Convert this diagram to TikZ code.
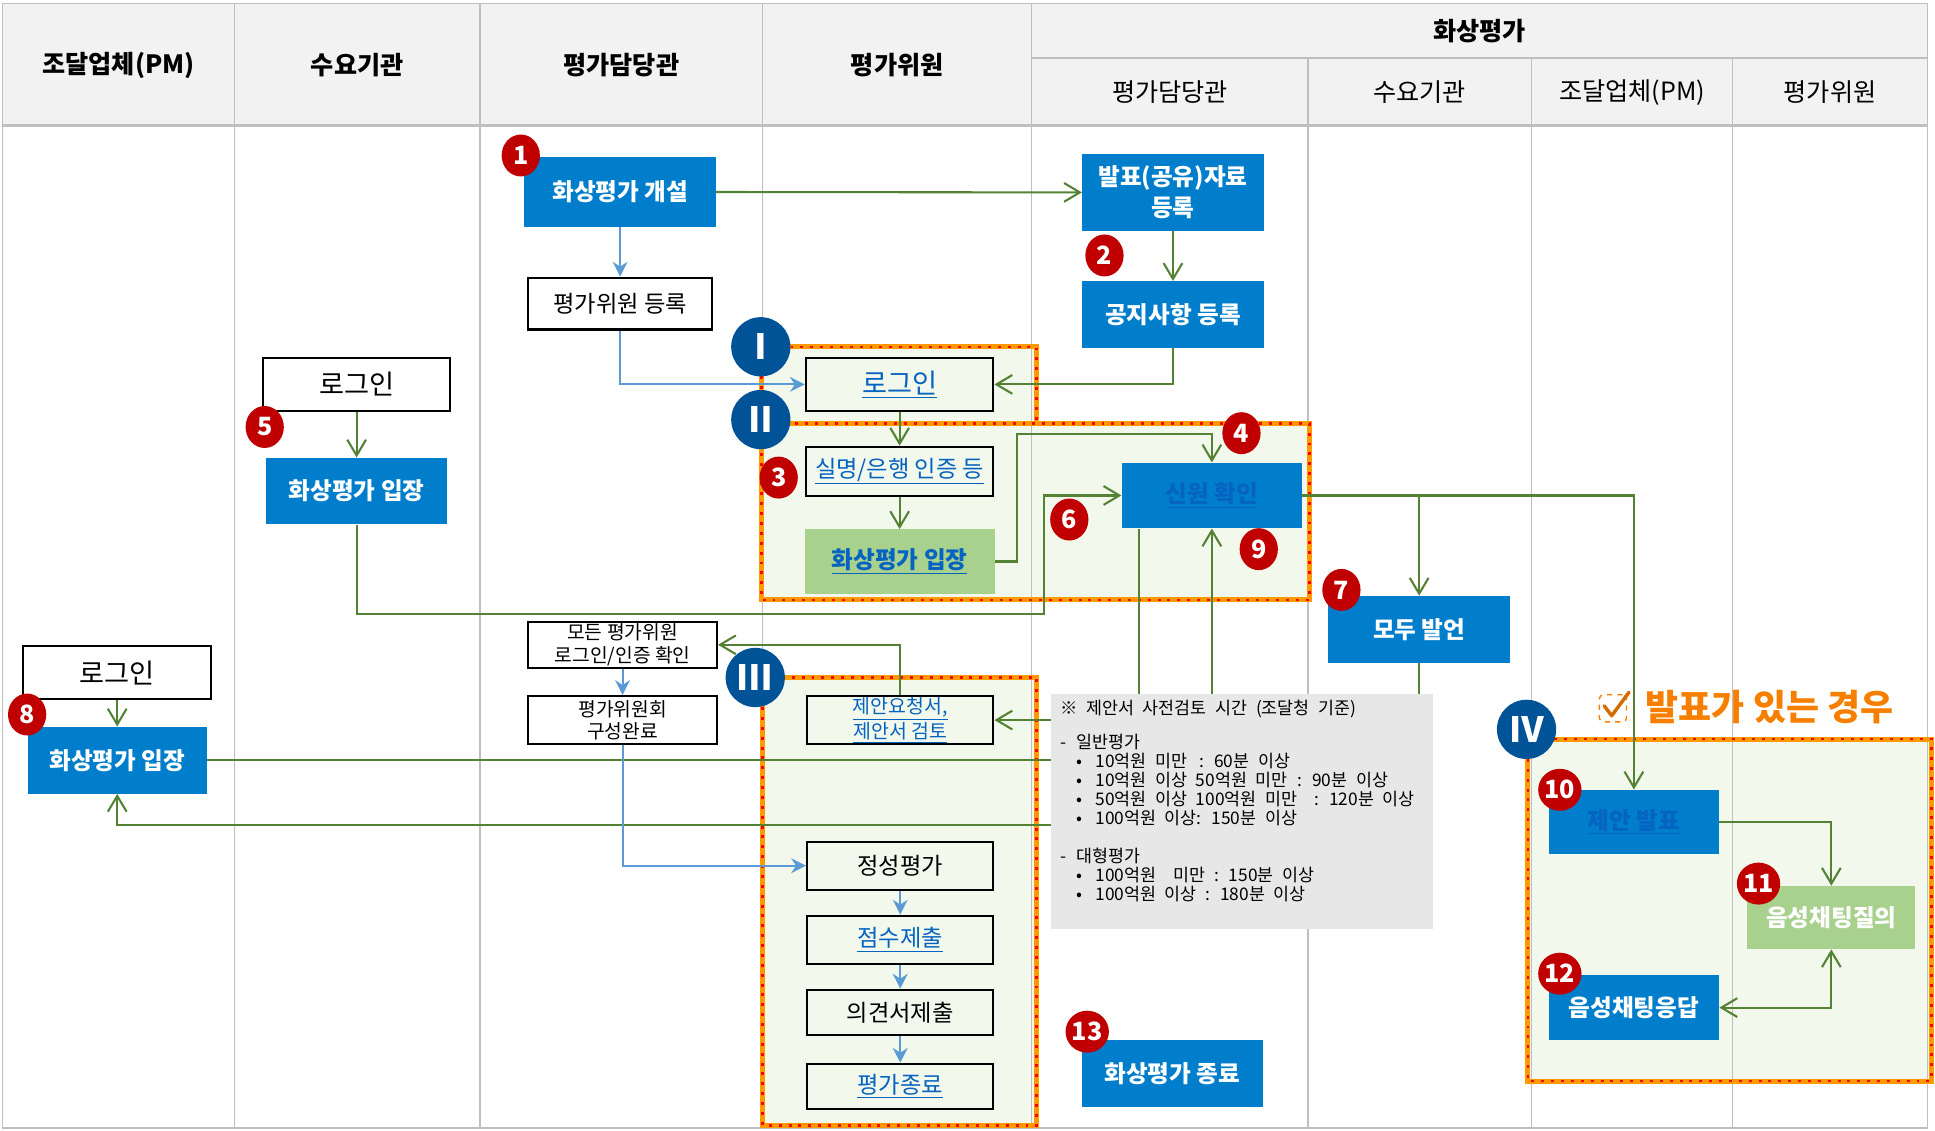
\documentclass[tikz,border=0pt]{standalone}
\usepackage{fontspec}
\setmainfont{Noto Sans CJK KR}
\usetikzlibrary{arrows.meta,shapes.geometric,calc}
\definecolor{boxblue}{RGB}{0,126,204}
\definecolor{badgeblue}{RGB}{0,83,150}
\definecolor{badgered}{RGB}{192,0,0}
\definecolor{linegreen}{RGB}{84,130,53}
\definecolor{lineblue}{RGB}{91,155,213}
\definecolor{boxgreen}{RGB}{169,209,142}
\definecolor{groupfill}{RGB}{242,248,236}
\definecolor{headfill}{RGB}{242,242,242}
\definecolor{gridgray}{RGB}{191,191,191}
\definecolor{linkblue}{RGB}{5,99,193}
\definecolor{notegray}{RGB}{231,231,231}
\definecolor{caseorange}{RGB}{247,127,0}
\definecolor{borderorange}{RGB}{255,153,0}
\newcommand{\lnk}[1]{\textcolor{linkblue}{\underline{#1}}}
\begin{document}
\begin{tikzpicture}[x=0.25mm,y=-0.25mm]
	\tikzstyle{headtext} = [font=\fontsize{14.5}{17}\selectfont\bfseries]
	\tikzstyle{subhead} = [font=\fontsize{14.5}{17}\selectfont]
	\tikzstyle{bluebox} = [fill=boxblue, text=white, font=\fontsize{13.6}{18}\selectfont\bfseries, minimum width=36.75mm, minimum height=13.5mm, inner sep=0, align=center]
	\tikzstyle{greenbox} = [bluebox, fill=boxgreen]
	\tikzstyle{plainbox} = [draw=black, line width=1.2pt, fill=white, minimum width=38mm, minimum height=10.75mm, inner sep=0, align=center, font=\fontsize{13.4}{15}\selectfont]
	\tikzstyle{smallbox} = [plainbox, minimum width=38.25mm, minimum height=9.5mm, font=\fontsize{11.1}{12.8}\selectfont]
	\tikzstyle{stepbox} = [plainbox, fill=groupfill, minimum width=37.75mm, minimum height=9.75mm]
	\tikzstyle{notebox} = [fill=notegray, anchor=north west, inner xsep=2mm, inner ysep=1.2mm, font=\fontsize{10}{10.9}\selectfont]
	\tikzstyle{redbadge} = [ellipse, fill=badgered, text=white, minimum width=7.75mm, minimum height=8.5mm, inner sep=0, font=\fontsize{14.5}{15}\selectfont\bfseries]
	\tikzstyle{bluebadge} = [circle, fill=badgeblue, text=white, minimum size=12mm, inner sep=0, font=\fontsize{20}{20}\selectfont\bfseries]
	\tikzstyle{garrow} = [linegreen, line width=1.2pt, -{Straight Barb[length=3.2mm,width=3.8mm]}]
	\tikzstyle{barrow} = [lineblue, line width=1.2pt, -{Stealth[length=3mm,width=3mm]}]
	\tikzstyle{lanegrid} = [gridgray, line width=0.9pt]
	\tikzstyle{orangeline} = [borderorange, line width=1mm]
	\tikzstyle{redline} = [red, line width=0.5mm, dash pattern=on 0.6mm off 1.4mm]
\useasboundingbox (0,0) rectangle (1568,916);
% header and lane backgrounds
\fill [headfill] (2,3) rectangle (1562,102);
\fill [groupfill] (617,281) rectangle (840,343);
\fill [groupfill] (617,343) rectangle (1061,486);
\fill [groupfill] (618,549) rectangle (840,912);
\fill [groupfill] (1238,599) rectangle (1565,876);
\draw [lanegrid] (2,3) rectangle (1562,914);
\draw [lanegrid] (190,3) -- (190,914);
\draw [lanegrid] (389,3) -- (389,914);
\draw [lanegrid] (618,3) -- (618,914);
\draw [lanegrid] (836,3) -- (836,914);
\draw [lanegrid] (1060,47) -- (1060,914);
\draw [lanegrid] (1241,47) -- (1241,914);
\draw [lanegrid] (1404,47) -- (1404,914);
\draw [lanegrid] (836,47) -- (1562,47);
\draw [lanegrid, line width=1.6pt] (2,102) -- (1562,102);
\draw [orangeline] (617,281) rectangle (840,343);
\draw [redline] (617,281) rectangle (840,343);
\draw [orangeline] (617,343) rectangle (1061,486);
\draw [redline] (617,343) rectangle (1061,486);
\draw [orangeline] (618,549) rectangle (840,912);
\draw [redline] (618,549) rectangle (840,912);
\draw [orangeline] (1238,599) rectangle (1565,876);
\draw [redline] (1238,599) rectangle (1565,876);

\node [headtext] (h1) at (96,53) {조달업체(PM)};
\node [headtext] (h2) at (289.5,53) {수요기관};
\node [headtext] (h3) at (503.5,53) {평가담당관};
\node [headtext] (h4) at (727,53) {평가위원};
\node [headtext] (hv) at (1199,25) {화상평가};
\node [subhead] (s1) at (948,75) {평가담당관};
\node [subhead] (s2) at (1150.5,75) {수요기관};
\node [subhead] (s3) at (1322.5,75) {조달업체(PM)};
\node [subhead] (s4) at (1483,75) {평가위원};

\node [plainbox, font=\fontsize{15.7}{18}\selectfont] (login1) at (95,545) {로그인};
\node [bluebox, minimum width=36.25mm] (enter1) at (95,616) {화상평가 입장};
\node [plainbox, font=\fontsize{15.7}{18}\selectfont] (login2) at (289,311.5) {로그인};
\node [bluebox] (enter2) at (289,398) {화상평가 입장};
\node [bluebox, minimum width=38.75mm, minimum height=14.25mm] (open) at (502.5,155.5) {화상평가 개설};
\node [plainbox, minimum width=37.25mm, minimum height=10.5mm] (reg) at (502.5,246) {평가위원 등록};
\node [smallbox, minimum height=9.25mm] (allchk) at (504.5,522.5) {모든 평가위원\\로그인/인증 확인};
\node [smallbox, minimum height=9.75mm] (committee) at (504.5,583.5) {평가위원회\\구성완료};
\node [plainbox, fill=groupfill, font=\fontsize{15.7}{18}\selectfont] (loginv) at (729,311.5) {\lnk{로그인}};
\node [plainbox, fill=groupfill, minimum height=10mm] (auth) at (729,382) {\lnk{실명/은행 인증 등}};
\node [greenbox, minimum width=38.5mm, minimum height=13mm] (enterv) at (729,455) {\lnk{화상평가 입장}};
\node [stepbox, font=\fontsize{11.2}{12.2}\selectfont] (review) at (729.5,583.5) {\lnk{제안요청서,}\\\lnk{제안서 검토}};
\node [stepbox] (qual) at (729.5,701.5) {정성평가};
\node [stepbox] (score) at (729.5,761.5) {\lnk{점수제출}};
\node [stepbox, minimum height=9.25mm] (opinion) at (729.5,820.5) {의견서제출};
\node [stepbox, minimum height=9.25mm] (finish) at (729.5,880.5) {\lnk{평가종료}};
\node [bluebox, minimum height=15.5mm] (upload) at (950.5,156) {발표(공유)자료\\등록};
\node [bluebox] (notice) at (950.5,255) {공지사항 등록};
\node [bluebox, minimum width=36.5mm, minimum height=13.25mm] (idchk) at (982,401.5) {\lnk{신원 확인}};
\node [bluebox] (speech) at (1150,510) {모두 발언};
\node [bluebox] (close) at (950,870) {화상평가 종료};
\node [bluebox, minimum width=34.5mm, minimum height=13mm] (present) at (1324,666) {\lnk{제안 발표}};
\node [greenbox, minimum width=34mm, minimum height=12.75mm] (ask) at (1484,743.5) {음성채팅질의};
\node [bluebox, minimum width=34.5mm, minimum height=13.25mm] (answer) at (1324,816.5) {음성채팅응답};

\draw [garrow] (open) -- (upload);
\draw [barrow] (open) -- (reg);
\draw [barrow] (reg.south) |- (loginv.west);
\draw [garrow] (upload) -- (notice);
\draw [garrow] (notice.south) |- (loginv.east);
\draw [garrow] (loginv) -- (auth);
\draw [garrow] (auth) -- (enterv);
\draw [garrow] (login2) -- (enter2);
\draw [garrow] (login1) -- (enter1);
\draw [garrow] (enterv.east) -- ++(18,0) |- ($(idchk.north)+(0,-23)$) -- (idchk.north);
\draw [garrow] (enter2.south) -- ++(0,72) -| ($(idchk.west)+(-63,0)$) -- (idchk.west);
\draw [garrow] (idchk.east) -| (speech.north);
\draw [garrow] (idchk.east) -| (present.north);
\draw [garrow] ($(idchk.south west)+(14,0)$) |- (review.east);
\draw [garrow] (enter1.east) -| (idchk.south);
\draw [garrow] (speech.south) -- ++(0,131) -| (enter1.south);
\draw [garrow] (review.north) |- (allchk.east);
\draw [barrow] (allchk) -- (committee);
\draw [barrow] (committee.south) |- (qual.west);
\draw [barrow] (qual) -- (score);
\draw [barrow] (score) -- (opinion);
\draw [barrow] (opinion) -- (finish);
\draw [garrow] (present.east) -| (ask.north);
\draw [garrow, {Straight Barb[length=3.2mm,width=3.8mm]}-{Straight Barb[length=3.2mm,width=3.8mm]}] (answer.east) -| (ask.south);

\node [notebox] (note) at (851,562) {\begin{minipage}[t][45.3mm][t]{73.5mm}\spaceskip=.5em\relax
※ 제안서 사전검토 시간 (조달청 기준)\\[9pt]
-\hspace*{2mm}일반평가\\
\hspace*{3.3mm}•\hspace*{2.6mm}10억원 미만\hspace*{2.5mm}: 60분 이상\\
\hspace*{3.3mm}•\hspace*{2.6mm}10억원 이상 50억원 미만\hspace*{2mm}: 90분 이상\\
\hspace*{3.3mm}•\hspace*{2.6mm}50억원 이상 100억원 미만\hspace*{3.5mm}: 120분 이상\\
\hspace*{3.3mm}•\hspace*{2.6mm}100억원 이상: 150분 이상\\[11pt]
-\hspace*{2mm}대형평가\\
\hspace*{3.3mm}•\hspace*{2.6mm}100억원 \ 미만 : 150분 이상\\
\hspace*{3.3mm}•\hspace*{2.6mm}100억원 이상 : 180분 이상
\end{minipage}};

\node [redbadge] (n1) at (422,126) {1};
\node [redbadge] (n2) at (895,207) {2};
\node [redbadge] (n3) at (631,387) {3};
\node [redbadge] (n4) at (1006,351) {4};
\node [redbadge] (n5) at (214.5,346) {5};
\node [redbadge] (n6) at (866.5,421) {6};
\node [redbadge] (n7) at (1087,478) {7};
\node [redbadge] (n8) at (22,579) {8};
\node [redbadge] (n9) at (1020,445) {9};
\node [redbadge] (n10) at (1264,640) {10};
\node [redbadge] (n11) at (1425,716) {11};
\node [redbadge] (n12) at (1264,789) {12};
\node [redbadge] (n13) at (881,836) {13};
\node [bluebadge] (r1) at (616.5,281) {Ⅰ};
\node [bluebadge] (r2) at (616.5,340) {Ⅱ};
\node [bluebadge] (r3) at (612,549) {Ⅲ};
\node [bluebadge] (r4) at (1237,591) {Ⅳ};

\node [draw=caseorange, dashed, line width=0.8pt, rounded corners=0.8mm, minimum size=5.5mm] (icon) at (1307,574) {};
\draw [caseorange!85!black, line width=2pt, line cap=round, line join=round] ($(icon.center)+(-7,-2)$) -- ($(icon.center)+(-1,6)$) -- ($(icon.center)+(13,-13)$);
\node [font=\fontsize{20.7}{22}\selectfont\bfseries, text=caseorange] (case) at (1434,573) {발표가 있는 경우};
\end{tikzpicture}
\end{document}
